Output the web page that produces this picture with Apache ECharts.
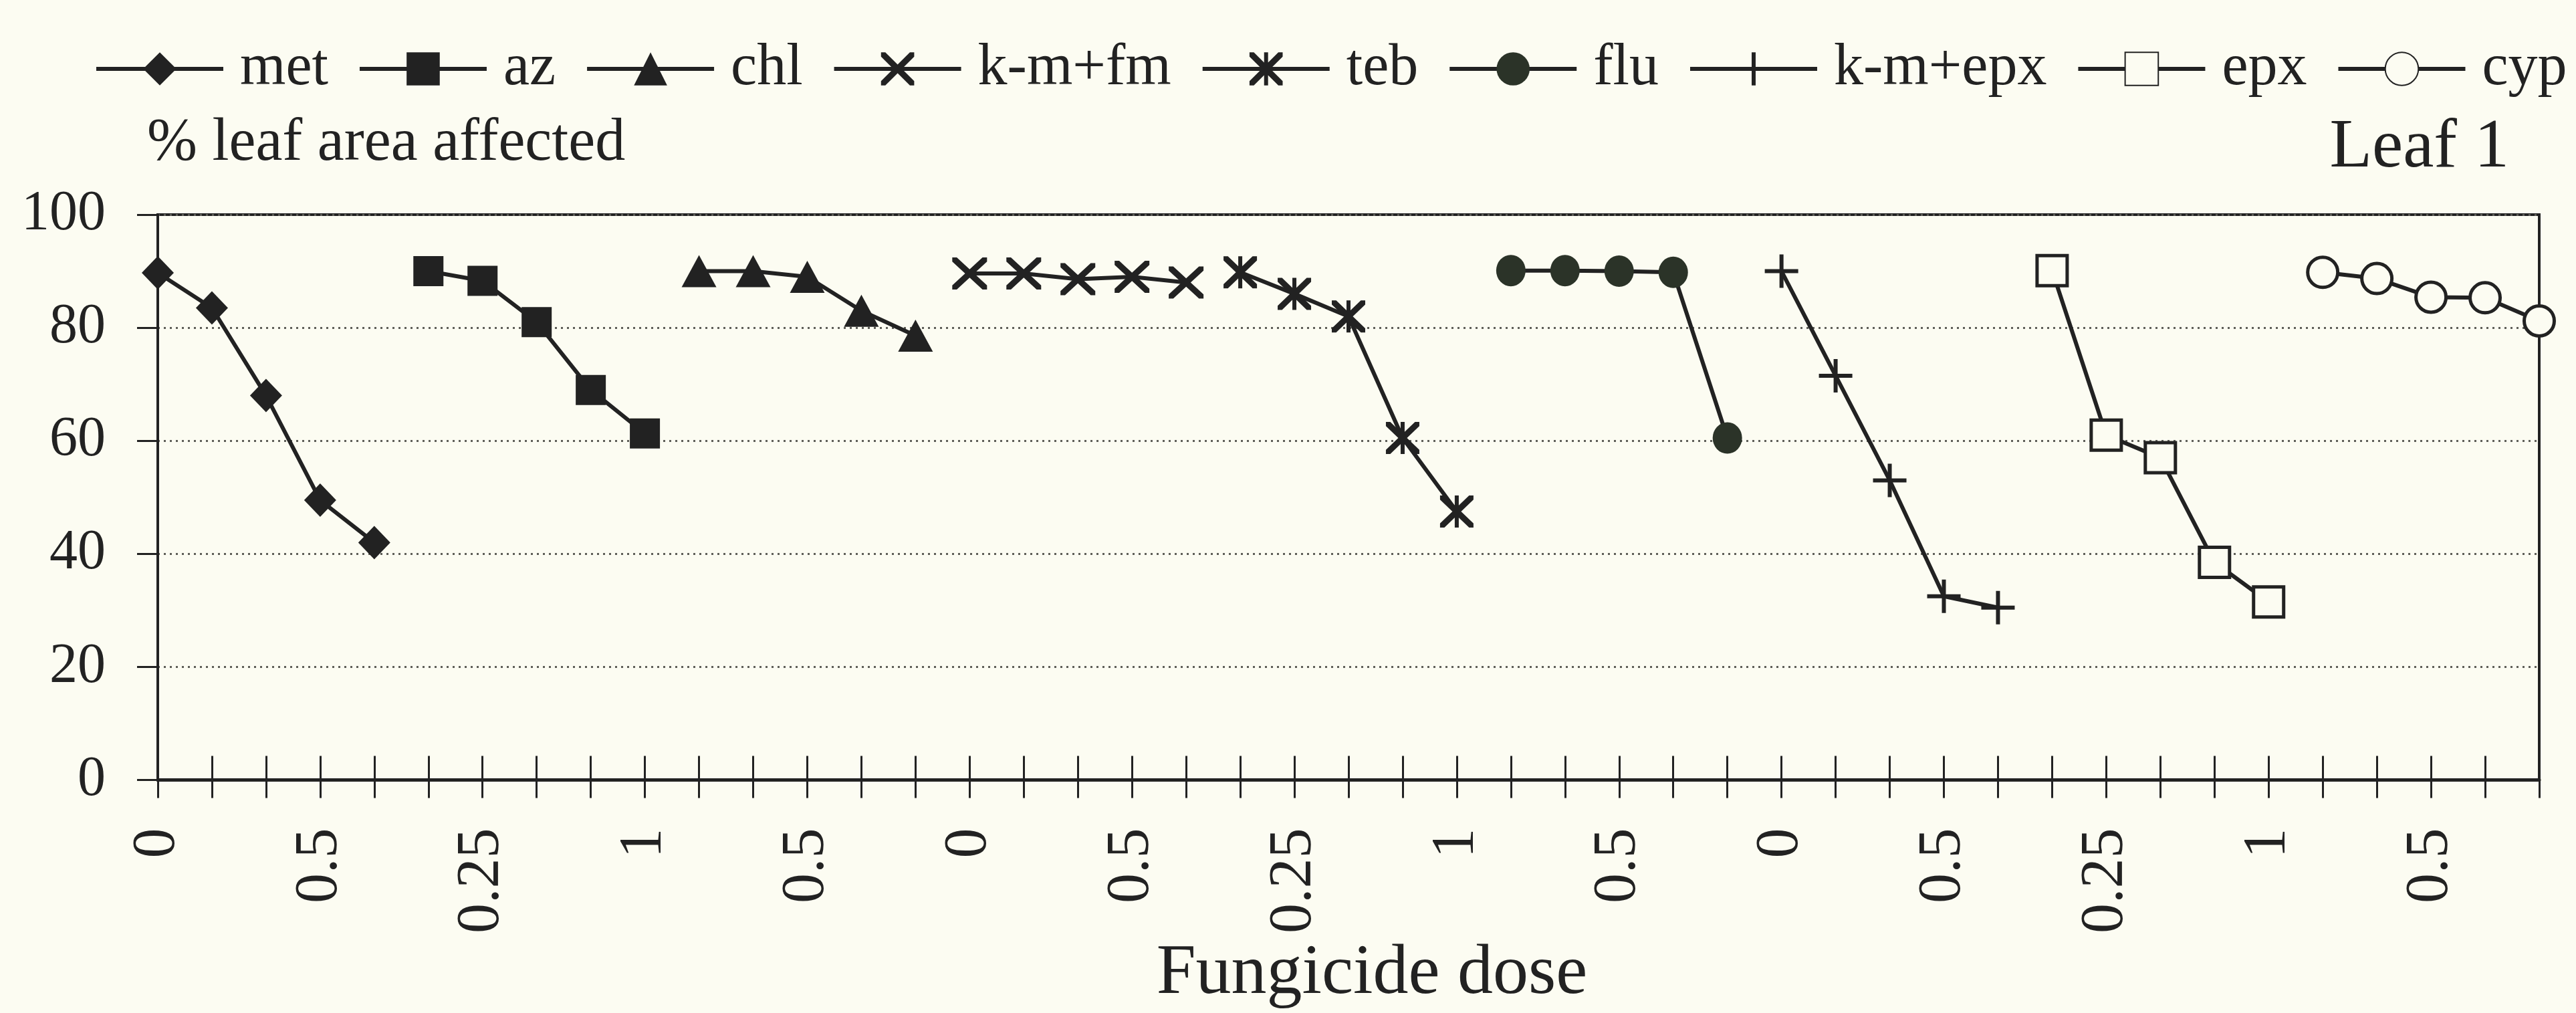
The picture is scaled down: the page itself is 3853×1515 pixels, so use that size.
<!DOCTYPE html>
<html>
<head>
<meta charset="utf-8">
<title>Leaf 1 – % leaf area affected by fungicide dose</title>
<script src="https://cdn.jsdelivr.net/npm/echarts@6/dist/echarts.min.js"></script>
<style>
  html, body { margin: 0; padding: 0; background: #fcfcf2; }
  #chart { width: 3853px; height: 1515px; }
</style>
</head>
<body>
<div id="chart"></div>
<script>
// Fungicides, in legend order; each one gets five consecutive dose positions
const fungicides = ['met', 'az', 'chl', 'k-m+fm', 'teb', 'flu', 'k-m+epx', 'epx', 'cyp'];

// % leaf area affected at each of the five doses
const metValues   = [89.7, 83.5, 68, 49.5, 42];
const azValues    = [90, 88.3, 81, 69, 61.3];
const chlValues   = [90, 90, 89, 83, 78.6];
const kmfmValues  = [89.6, 89.6, 88.6, 89, 88];
const tebValues   = [89.8, 86, 82, 60.5, 47.5];
const fluValues   = [90.1, 90.1, 90, 89.8, 60.5];
const kmepxValues = [90, 71.5, 53, 32.5, 30.5];
const epxValues   = [90.1, 61, 57, 38.5, 31.5];
const cypValues   = [89.8, 88.7, 85.4, 85.3, 81.2];

// Dose labels printed under every third position
const tickLabels = ['0', '0.5', '0.25', '1', '0.5', '0', '0.5', '0.25', '1', '0.5', '0', '0.5', '0.25', '1', '0.5'];

const yTicks = [0, 20, 40, 60, 80, 100];

const groups = [metValues, azValues, chlValues, kmfmValues, tebValues, fluValues, kmepxValues, epxValues, cypValues];
const POINTS = 5;
const categories = [];
for (let i = 0; i < groups.length * POINTS; i++) categories.push(String(i));

const INK = '#222';
const PAPER = '#fcfcf2';
const SERIF = '"Liberation Serif", "DejaVu Serif", serif';

// Line-art markers as filled outlines
const X_PATH = 'path://M0,0 L13,0 L50,37 L87,0 L100,0 L100,13 L63,50 L100,87 L100,100 L87,100 L50,63 L13,100 L0,100 L0,87 L37,50 L0,13 Z';
const STAR_PATH = X_PATH + ' M44,0 L56,0 L56,100 L44,100 Z';
const PLUS_PATH = 'path://M44,0 L56,0 L56,44 L100,44 L100,56 L56,56 L56,100 L44,100 L44,56 L0,56 L0,44 L44,44 Z';

const markers = [
  { symbol: 'diamond', size: [48, 50], fill: INK },
  { symbol: 'rect', size: 45, fill: INK },
  { symbol: 'triangle', size: [52, 48], fill: INK },
  { symbol: X_PATH, size: [52, 48], fill: INK },
  { symbol: STAR_PATH, size: [50, 48], fill: INK },
  { symbol: 'circle', size: [44, 47], fill: '#2b3328' },
  { symbol: PLUS_PATH, size: [50, 50], fill: INK },
  { symbol: 'rect', size: 45, fill: PAPER, border: 5 },
  { symbol: 'circle', size: 45, fill: PAPER, border: 5 }
];

const series = fungicides.map((name, g) => {
  const m = markers[g];
  return {
    name: name,
    type: 'line',
    xAxisIndex: 0,
    yAxisIndex: 0,
    data: groups[g].map((v, j) => [g * POINTS + j, v]),
    symbol: m.symbol,
    symbolSize: m.size,
    showSymbol: true,
    showAllSymbol: true,
    lineStyle: { color: INK, width: 6 },
    itemStyle: {
      color: m.fill,
      borderColor: INK,
      borderWidth: m.border || 0
    },
    emphasis: { disabled: true },
    z: 3
  };
});

const chart = echarts.init(document.getElementById('chart'), null, { renderer: 'canvas' });

chart.setOption({
  backgroundColor: PAPER,
  animation: false,
  textStyle: { fontFamily: SERIF, color: INK },
  title: [
    {
      text: '% leaf area affected',
      left: 220,
      top: 170,
      padding: 0,
      textStyle: { fontFamily: SERIF, fontSize: 90, fontWeight: 'normal', color: INK }
    },
    {
      text: 'Leaf 1',
      right: 100,
      top: 170,
      padding: 0,
      textStyle: { fontFamily: SERIF, fontSize: 104, fontWeight: 'normal', color: INK }
    }
  ],
  legend: {
    data: fungicides,
    left: 141,
    top: 59,
    width: 3800,
    padding: 0,
    orient: 'horizontal',
    itemWidth: 190,
    itemHeight: 62,
    itemGap: 44,
    selectedMode: false,
    lineStyle: { color: INK, width: 6 },
    textStyle: { fontFamily: SERIF, fontSize: 88, color: INK, padding: [0, 0, 0, 20] }
  },
  grid: {
    left: 236,
    right: 55,
    top: 321,
    bottom: 323,
    show: true,
    borderColor: INK,
    borderWidth: 4,
    backgroundColor: 'transparent',
    containLabel: false
  },
  xAxis: [
    {
      type: 'category',
      data: categories,
      boundaryGap: false,
      position: 'bottom',
      name: 'Fungicide dose',
      nameLocation: 'middle',
      nameGap: 212,
      nameTextStyle: { fontFamily: SERIF, fontSize: 106, color: INK, padding: [0, 0, 0, 70] },
      axisLine: { show: true, onZero: false, lineStyle: { color: INK, width: 5 } },
      axisTick: { show: true, interval: 0, inside: false, length: 27, lineStyle: { color: INK, width: 3 } },
      axisLabel: {
        show: true,
        interval: 2,
        rotate: 90,
        margin: 72,
        fontFamily: SERIF,
        fontSize: 90,
        color: INK,
        formatter: (value) => tickLabels[Number(value) / 3] || ''
      },
      splitLine: { show: false }
    },
    {
      type: 'category',
      data: categories,
      boundaryGap: false,
      position: 'bottom',
      axisLine: { show: false, onZero: false },
      axisTick: { show: true, interval: 0, inside: true, length: 36, lineStyle: { color: INK, width: 3 } },
      axisLabel: { show: false },
      splitLine: { show: false }
    }
  ],
  yAxis: {
    type: 'value',
    min: yTicks[0],
    max: yTicks[yTicks.length - 1],
    interval: yTicks[1] - yTicks[0],
    axisLine: { show: true, onZero: false, lineStyle: { color: INK, width: 4 } },
    axisTick: { show: true, inside: false, length: 31, lineStyle: { color: INK, width: 3 } },
    axisLabel: { fontFamily: SERIF, fontSize: 84, color: INK, margin: 78 },
    splitLine: { show: true, lineStyle: { color: '#5e5e58', width: 3, type: [3, 6] } }
  },
  series: series
});
</script>
</body>
</html>
